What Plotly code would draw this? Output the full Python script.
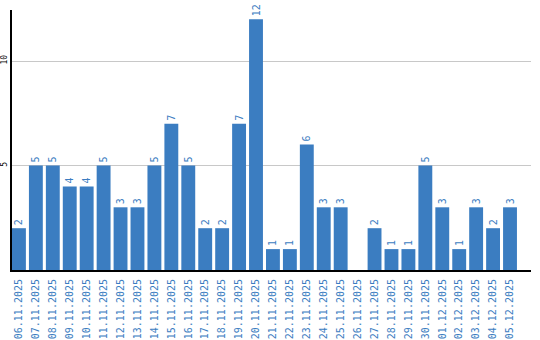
import plotly.graph_objects as go

dates = ["06.11.2025","07.11.2025","08.11.2025","09.11.2025","10.11.2025","11.11.2025",
         "12.11.2025","13.11.2025","14.11.2025","15.11.2025","16.11.2025","17.11.2025",
         "18.11.2025","19.11.2025","20.11.2025","21.11.2025","22.11.2025","23.11.2025",
         "24.11.2025","25.11.2025","26.11.2025","27.11.2025","28.11.2025","29.11.2025",
         "30.11.2025","01.12.2025","02.12.2025","03.12.2025","04.12.2025","05.12.2025"]
values = [2,5,5,4,4,5,3,3,5,7,5,2,2,7,12,1,1,6,3,3,0,2,1,1,5,3,1,3,2,3]
labels = [str(v) if v else "" for v in values]

blue = "#3b7dc1"
fig = go.Figure(go.Bar(
    x=dates, y=values, marker_color=blue, marker_line_width=0,
    text=labels, textposition="outside", textangle=-90, cliponaxis=False,
    textfont=dict(family="DejaVu Sans Mono", size=10, color=blue),
))
fig.update_layout(
    width=540, height=340, margin=dict(l=12, r=9, t=10, b=70),
    paper_bgcolor="white", plot_bgcolor="white", showlegend=False, bargap=0.18,
    font=dict(family="DejaVu Sans Mono"),
    uniformtext=dict(minsize=10, mode="show"),
)
fig.update_xaxes(type="category", range=[-0.41, 30.24], tickangle=-90, automargin=False,
                 tickfont=dict(size=10, color=blue), showline=True, linecolor="black",
                 linewidth=2, ticks="", showgrid=False, ticklabelstandoff=3)
fig.update_yaxes(range=[0, 12.44], tickvals=[5, 10], tickangle=-90, automargin=False,
                 tickfont=dict(size=8, color="black"), showline=True, linecolor="black",
                 linewidth=2, gridcolor="#c8c8c8", gridwidth=1, zeroline=False, ticklabelstandoff=0)
fig.write_html("out.html")
